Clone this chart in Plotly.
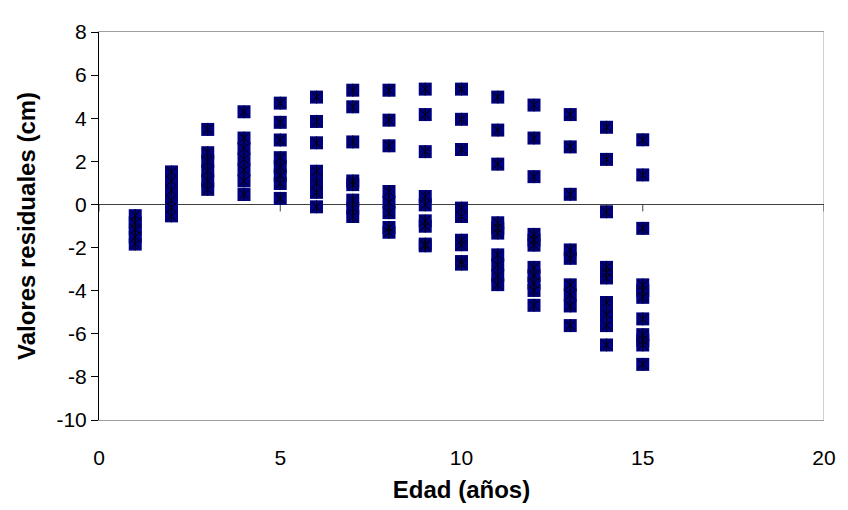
import plotly.graph_objects as go

# Residual values (cm) read for each age (years)
edades = list(range(1, 16))
res_01 = [-0.52, -0.85, -1.15, -1.5, -1.84]
res_02 = [1.51, 1.1, 0.65, 0.2, -0.15, -0.53]
res_03 = [3.48, 2.4, 2.0, 1.55, 1.1, 0.7]
res_04 = [4.30, 3.08, 2.6, 2.1, 1.6, 1.09, 0.46]
res_05 = [4.70, 3.81, 2.99, 2.17, 1.75, 1.35, 0.97, 0.28]
res_06 = [4.98, 3.85, 2.86, 1.54, 1.0, 0.56, -0.11]
res_07 = [5.30, 4.53, 2.90, 1.09, 0.92, 0.2, -0.18, -0.56]
res_08 = [5.30, 3.91, 2.72, 0.6, 0.1, -0.38, -1.07, -1.29]
res_09 = [5.35, 4.17, 2.45, 0.37, -0.02, -0.76, -1.01, -1.84, -1.92]
res_10 = [5.35, 3.95, 2.55, -0.17, -0.56, -1.66, -1.87, -2.65, -2.77]
res_11 = [4.98, 3.45, 1.87, -0.85, -1.1, -1.33, -2.34, -2.8, -3.3, -3.72]
res_12 = [4.61, 3.08, 1.29, -1.39, -1.65, -1.89, -2.92, -3.3, -3.65, -3.99, -4.68]
res_13 = [4.17, 2.67, 0.47, -2.11, -2.50, -3.73, -4.2, -4.71, -5.62]
res_14 = [3.58, 2.09, -0.34, -2.92, -3.15, -3.41, -4.55, -5.1, -5.62, -6.52]
res_15 = [3.0, 1.37, -1.11, -3.73, -4.0, -4.31, -5.31, -6.04, -6.3, -6.52, -7.42]

residuos = [res_01, res_02, res_03, res_04, res_05, res_06, res_07, res_08,
            res_09, res_10, res_11, res_12, res_13, res_14, res_15]

x_ticks = [0, 5, 10, 15, 20]
y_ticks = [-10, -8, -6, -4, -2, 0, 2, 4, 6, 8]

xs, ys = [], []
for edad, vals in zip(edades, residuos):
    for v in vals:
        xs.append(edad)
        ys.append(v)

fig = go.Figure()
fig.add_trace(go.Scatter(
    x=xs, y=ys, mode="markers", hoverinfo="x+y",
    marker=dict(symbol="square", size=13, color="#000080", line=dict(width=0)),
    showlegend=False))
fig.add_trace(go.Scatter(
    x=xs, y=ys, mode="markers", hoverinfo="skip",
    marker=dict(symbol="x-thin-open", size=9.3, color="#000000",
                line=dict(width=1, color="#000000")),
    showlegend=False))
fig.add_trace(go.Scatter(
    x=xs, y=ys, mode="markers", hoverinfo="skip",
    marker=dict(symbol="line-ns-open", size=9.3, color="#000000",
                line=dict(width=1, color="#000000")),
    showlegend=False))

shapes = [dict(type="line", xref="x", yref="paper", x0=20, x1=20, y0=0, y1=1,
               line=dict(color="#a0a0a0", width=1), layer="below")]
for t in x_ticks:
    shapes.append(dict(type="line", xref="x", yref="y", ysizemode="pixel",
                       yanchor=0, x0=t, x1=t, y0=0, y1=-7,
                       line=dict(color="#404040", width=1), layer="below"))

# page body adds an 8px offset; figure sized so the plot lands where the reference has it
fig.update_layout(
    width=840, height=502,
    margin=dict(l=91, r=15, t=16, b=87),
    paper_bgcolor="white", plot_bgcolor="white",
    font=dict(family="Liberation Sans, Arial, sans-serif", color="black", size=21),
    shapes=shapes,
    xaxis=dict(range=[0, 20], tickvals=x_ticks, ticktext=[str(t) for t in x_ticks],
               showgrid=False, zeroline=False,
               showline=True, linecolor="#a0a0a0", linewidth=1, mirror=True,
               ticks="outside", ticklen=19, tickcolor="rgba(0,0,0,0)",
               tickfont=dict(size=21),
               title=dict(text="<b>Edad (años)</b>", font=dict(size=24), standoff=12)),
    yaxis=dict(range=[-10, 8], tickvals=y_ticks, ticktext=[str(t) for t in y_ticks],
               showgrid=False, zeroline=True, zerolinecolor="#404040", zerolinewidth=1,
               showline=True, linecolor="#000000", linewidth=1,
               ticks="outside", ticklen=7, tickcolor="#000000",
               tickfont=dict(size=21),
               title=dict(text="<b>Valores residuales (cm)</b>", font=dict(size=24), standoff=14)),
)

fig.write_html("out.html")
